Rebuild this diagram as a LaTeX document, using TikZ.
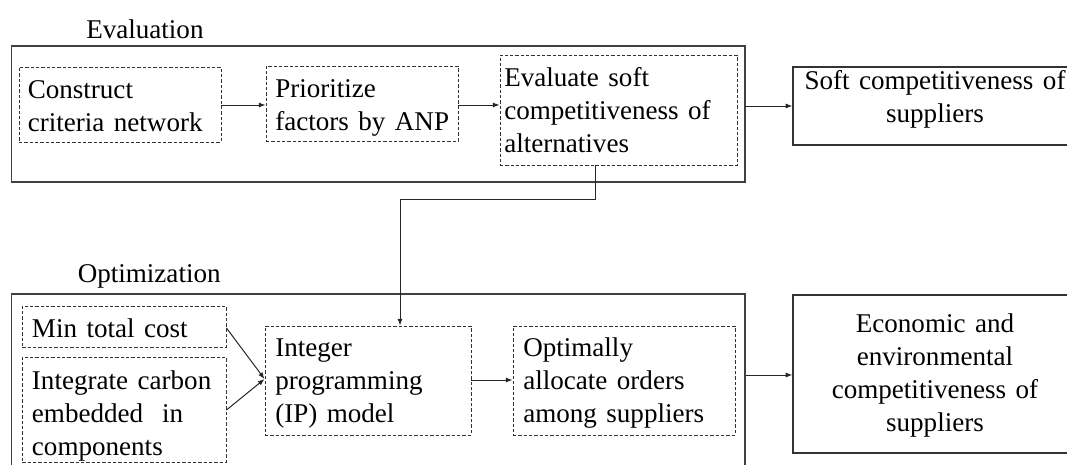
\documentclass[tikz,border=0pt]{standalone}
\usepackage{fontspec}
\setmainfont{Liberation Serif}[WordSpace=1.4]
\usetikzlibrary{arrows.meta,fit}

\tikzset{
  panel/.style={draw=black!75, line width=1.1pt, inner sep=0pt},
  dbox/.style={draw=black!80, line width=0.7pt, dash pattern=on 2.4pt off 1.6pt, inner sep=0pt},
  sbox/.style={draw=black!80, line width=0.9pt, inner sep=0pt},
  txt/.style={inner sep=0pt, font=\fontsize{20.3pt}{24.75pt}\selectfont},
  % multi-line texts are placed by the baseline of their last line
  ltxt/.style={txt, align=left, anchor=base west},
  ctxt/.style={txt, align=center, anchor=base},
  conn/.style={draw=black!85, line width=0.75pt, -{Latex[length=5pt,width=3.8pt]}}
}

\begin{document}
\begin{tikzpicture}[x=0.75pt, y=-0.75pt]
\useasboundingbox (0,0) rectangle (1067,464);
\clip (0,0) rectangle (1067,464);

% Evaluation stage
\node[ltxt] (evallabel) at (86,38) {Evaluation};
\node[panel, fit={(11.4,46) (745,182)}] (eval) {};
\node[dbox, fit={(19,67) (221,142)}] (d1) {};
\node[dbox, fit={(266,66) (458,141)}] (d2) {};
\node[dbox, fit={(500,55) (737,165)}] (d3) {};
\node[ltxt] (d1t) at (27.5,131) {Construct\\criteria network};
\node[ltxt] (d2t) at (275,130) {Prioritize\\factors by ANP};
\node[ltxt] (d3t) at (504,152) {Evaluate soft\\competitiveness of\\alternatives};
\node[sbox, fit={(793,67) (1100,145)}] (soft) {};
\node[ctxt] (softt) at (935,122) {Soft competitiveness of\\suppliers};

% Optimization stage
\node[ltxt] (optlabel) at (77.5,282) {Optimization};
\node[panel, fit={(11.4,294) (745,490)}] (opt) {};
\node[dbox, fit={(22.4,306) (226,347)}] (mincost) {};
\node[dbox, fit={(22.4,357) (226,462)}] (carbon) {};
\node[dbox, fit={(265,326) (471,435)}] (ip) {};
\node[dbox, fit={(513,326) (735,435)}] (alloc) {};
\node[ltxt] (mincostt) at (31.7,337) {Min total cost};
\node[ltxt] (carbont) at (31.7,455) {Integrate carbon\\embedded\ \ in\\components};
\node[ltxt] (ipt) at (275,422) {Integer\\programming\\(IP) model};
\node[ltxt] (alloct) at (523,422) {Optimally\\allocate orders\\among suppliers};
\node[sbox, fit={(793,295) (1100,453)}] (econ) {};
\node[ctxt] (econt) at (935,431) {Economic and\\environmental\\competitiveness of\\suppliers};

% Connectors
\coordinate (bend1) at (595,199);
\coordinate (bend2) at (400,199);
\draw[conn] (d1.east |- 0,105) -- (d2.west |- 0,105);
\draw[conn] (d2.east |- 0,105) -- (d3.west |- 0,105);
\draw[conn] (eval.east |- 0,106) -- (soft.west |- 0,106);
\draw[conn] (d3.south -| bend1) -- (bend1) -- (bend2) -- (ip.north -| bend2);
\draw[conn] (mincost.east |- 0,328) -- (ip.west |- 0,379);
\draw[conn] (carbon.east |- 0,410) -- (ip.west |- 0,379);
\draw[conn] (ip.east |- 0,380) -- (alloc.west |- 0,380);
\draw[conn] (opt.east |- 0,375) -- (econ.west |- 0,375);
\end{tikzpicture}
\end{document}
